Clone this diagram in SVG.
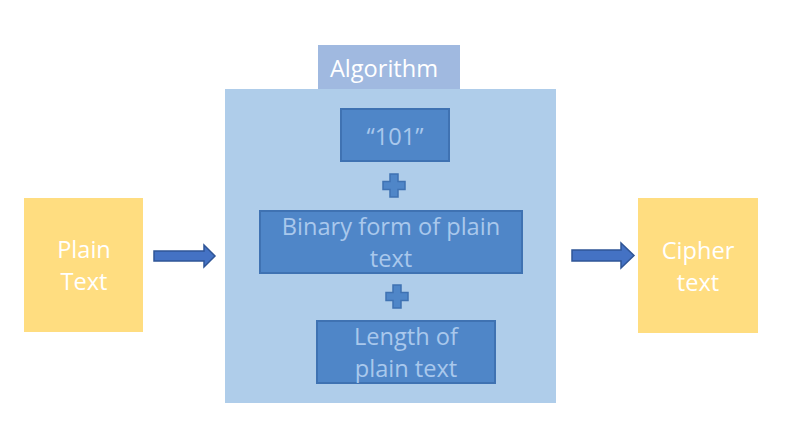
<svg xmlns="http://www.w3.org/2000/svg" width="787" height="431" viewBox="0 0 787 431">
<style>
.t{font-family:"Open Sans","Liberation Sans",sans-serif;font-size:23.6px;text-anchor:middle}
.w{fill:#FFFFFF}
.lb{fill:#A9C8EC}
.inner{fill:#4F86C8;stroke:#3F72B2;stroke-width:2}
.yel{fill:#FFDD80}
.plus{fill:#4F86C8;stroke:#3F72B2;stroke-width:1.5}
.arr{fill:#4472C4;stroke:#2F5597;stroke-width:1.5}
</style>
<rect width="787" height="431" fill="#FFFFFF"/>
<g id="algorithm">
<rect x="225" y="89" width="331" height="314" fill="#AFCDEA"/>
<rect x="318" y="45" width="142" height="44" fill="#A0B9E0"/>
<text class="t w" x="384" y="77">Algorithm</text>
</g>
<g id="n101">
<rect class="inner" x="341" y="109" width="108" height="52"/>
<text class="t lb" x="395" y="145">“101”</text>
</g>
<g id="plus1">
<path class="plus" d="M390,174h8v7.5h7v8h-7v7.5h-8v-7.5h-7v-8h7z"/>
</g>
<g id="binary">
<rect class="inner" x="260" y="211" width="262" height="62"/>
<text class="t lb" x="391" y="235">Binary form of plain</text>
<text class="t lb" x="391" y="267">text</text>
</g>
<g id="plus2">
<path class="plus" d="M393,285h8v7.5h7v8h-7v7.5h-8v-7.5h-7v-8h7z"/>
</g>
<g id="length">
<rect class="inner" x="317" y="321" width="178" height="62"/>
<text class="t lb" x="406" y="345">Length of</text>
<text class="t lb" x="406" y="377">plain text</text>
</g>
<g id="plain">
<rect class="yel" x="24" y="198" width="119" height="134"/>
<text class="t w" x="84" y="258">Plain</text>
<text class="t w" x="84" y="290">Text</text>
</g>
<g id="cipher">
<rect class="yel" x="638" y="198" width="120" height="135"/>
<text class="t w" x="698" y="259">Cipher</text>
<text class="t w" x="698" y="291">text</text>
</g>
<g id="connectors">
<path class="arr" d="M154,251h50v-6l11,11l-11,11v-6h-50z"/>
<path class="arr" d="M572,250h49v-7l13,12.5l-13,12.5v-7h-49z"/>
</g>
</svg>
